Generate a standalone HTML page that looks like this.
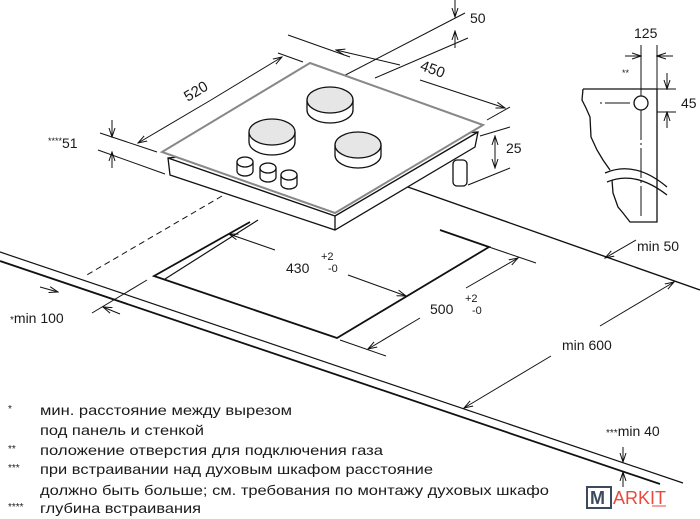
<!DOCTYPE html>
<html><head><meta charset="utf-8"><style>
html,body{margin:0;padding:0;background:#fff}
svg{display:block}
text{font-family:"Liberation Sans",sans-serif;fill:#1a1a1a}
</style></head><body>
<svg width="700" height="519" viewBox="0 0 700 519" xmlns="http://www.w3.org/2000/svg">
<defs>
<marker id="a" markerWidth="10" markerHeight="8" refX="9" refY="4" orient="auto" markerUnits="userSpaceOnUse">
<path d="M0,1 L9,4 L0,7" fill="none" stroke="#111" stroke-width="1"/>
</marker>
</defs>
<g stroke="#111" fill="none" stroke-width="1">
<line x1="0" y1="252" x2="683" y2="483" stroke-width="1.2"/>
<line x1="0" y1="261" x2="660" y2="484" stroke-width="1.8"/>
<line x1="405" y1="186" x2="700" y2="290" stroke-width="1.4"/>
<path d="M250,222 L154,276 L337,338 L489,247 L440,230" stroke-width="1.8"/>
<path d="M258,220 L165,279" stroke-width="1.2"/>
<line x1="275" y1="250" x2="229" y2="234" marker-end="url(#a)"/>
<line x1="348" y1="275" x2="406" y2="296" marker-end="url(#a)"/>
<line x1="489" y1="247" x2="536" y2="263"/>
<line x1="340" y1="340" x2="386" y2="356"/>
<line x1="466" y1="288" x2="518" y2="258" marker-end="url(#a)"/>
<line x1="420" y1="318" x2="368" y2="349" marker-end="url(#a)"/>
<line x1="600" y1="326" x2="674" y2="282" marker-end="url(#a)"/>
<line x1="551" y1="356" x2="464" y2="408" marker-end="url(#a)"/>
<line x1="636" y1="240" x2="605" y2="258" marker-end="url(#a)"/>
<path d="M222,196 L85,276" stroke-dasharray="6,4"/>
<line x1="147" y1="280" x2="92" y2="313"/>
<line x1="40" y1="287" x2="58" y2="292" marker-end="url(#a)"/>
<line x1="120" y1="314" x2="103" y2="307" marker-end="url(#a)"/>
<line x1="623" y1="447" x2="623" y2="462" marker-end="url(#a)"/>
<line x1="623" y1="487" x2="623" y2="472" marker-end="url(#a)"/>
<line x1="100" y1="133" x2="157" y2="152"/>
<line x1="98" y1="150" x2="165" y2="174"/>
<line x1="112" y1="120" x2="112" y2="137" marker-end="url(#a)"/>
<line x1="112" y1="168" x2="112" y2="152" marker-end="url(#a)"/>
<line x1="278" y1="53" x2="303" y2="62"/>
<line x1="211" y1="100" x2="138" y2="143" marker-end="url(#a)"/>
<line x1="211" y1="100" x2="282" y2="57" marker-end="url(#a)"/>
<line x1="288" y1="35" x2="350" y2="57"/>
<line x1="487" y1="120" x2="510" y2="107"/>
<line x1="400" y1="65" x2="336" y2="50" marker-end="url(#a)"/>
<line x1="420" y1="80" x2="505" y2="108" marker-end="url(#a)"/>
<line x1="330" y1="83" x2="465" y2="13"/>
<line x1="375" y1="78" x2="468" y2="38"/>
<line x1="455" y1="0" x2="455" y2="17" marker-end="url(#a)"/>
<line x1="455" y1="48" x2="455" y2="31" marker-end="url(#a)"/>
<line x1="480" y1="136" x2="510" y2="127"/>
<line x1="468" y1="185" x2="510" y2="168"/>
<line x1="495" y1="152" x2="495" y2="136" marker-end="url(#a)"/>
<line x1="495" y1="152" x2="495" y2="168" marker-end="url(#a)"/>
</g>
<g stroke="#111" stroke-width="1.3">
<path d="M168,158 L170,175 L335,230 L475,147 L478,132 Z" fill="#fff"/>
<line x1="335" y1="216" x2="335" y2="230"/>
<rect x="453" y="160" width="14" height="26" rx="4" fill="#fff"/>
<path d="M162,152 L310,63 L483,125 L335,213 Z" fill="#fff" stroke="#888" stroke-width="2"/>
<path d="M168,158 L335,216 L478,132" fill="none" stroke-width="1.4"/>
</g>
<g stroke="#111" stroke-width="1.3">
<g transform="translate(330,100)"><path d="M-23,0 V10 A23,13 0 0 0 23,10 V0" fill="#fff"/><ellipse rx="23" ry="13" fill="#e6e6e6"/></g>
<g transform="translate(272,132)"><path d="M-23,0 V10 A23,13 0 0 0 23,10 V0" fill="#fff"/><ellipse rx="23" ry="13" fill="#e6e6e6"/></g>
<g transform="translate(358,145)"><path d="M-23,0 V10 A23,13 0 0 0 23,10 V0" fill="#fff"/><ellipse rx="23" ry="13" fill="#e6e6e6"/></g>
<g transform="translate(245,162)"><path d="M-8,0 V9 A8,5 0 0 0 8,9 V0" fill="#fff"/><ellipse rx="8" ry="5" fill="#fff"/></g>
<g transform="translate(268,168)"><path d="M-8,0 V9 A8,5 0 0 0 8,9 V0" fill="#fff"/><ellipse rx="8" ry="5" fill="#fff"/></g>
<g transform="translate(289,175)"><path d="M-8,0 V9 A8,5 0 0 0 8,9 V0" fill="#fff"/><ellipse rx="8" ry="5" fill="#fff"/></g>
</g>
<g stroke="#111" fill="none" stroke-width="1.3">
<path d="M583,89 L657,89 L657,222 L630,222 L623,213 L618,207 L613,193 L612,180"/>
<path d="M610,170 L603,160 L597,150 L591,137 L590,117 L586,108 L582,100 L583,89"/>
<path d="M605,173 Q635,160 667,187"/>
<path d="M607,182 Q635,170 667,195"/>
<circle cx="641" cy="103" r="7"/>
<line x1="641" y1="45" x2="641" y2="96" stroke-width="1"/>
<line x1="641" y1="110" x2="641" y2="218" stroke-width="1" stroke-dasharray="30,3,2,3"/>
<line x1="600" y1="103" x2="633" y2="103" stroke-width="1" stroke-dasharray="2,3,25,3"/>
<line x1="657" y1="45" x2="657" y2="89" stroke-width="1"/>
<line x1="657" y1="89" x2="676" y2="89" stroke-width="1"/>
<line x1="657" y1="112" x2="676" y2="112" stroke-width="1"/>
<line x1="625" y1="56" x2="641" y2="56" stroke-width="1" marker-end="url(#a)"/>
<line x1="673" y1="56" x2="657" y2="56" stroke-width="1" marker-end="url(#a)"/>
<line x1="667" y1="73" x2="667" y2="89" stroke-width="1" marker-end="url(#a)"/>
<line x1="667" y1="128" x2="667" y2="112" stroke-width="1" marker-end="url(#a)"/>
</g>
<g font-size="14">
<text x="470" y="23">50</text>
<text x="634" y="38">125</text>
<text x="622" y="76" font-size="9">**</text>
<text x="681" y="108">45</text>
<text x="506" y="153">25</text>
<text x="183" y="95" transform="rotate(-31 198 90)" font-size="15">520</text>
<text x="420" y="75" transform="rotate(20 435 70)" font-size="15">450</text>
<text x="48" y="148"><tspan font-size="9" dy="-4">****</tspan><tspan dy="4">51</tspan></text>
<text x="286" y="273">430</text>
<text x="321" y="260" font-size="11">+2</text>
<text x="328" y="272" font-size="11">-0</text>
<text x="430" y="314">500</text>
<text x="465" y="302" font-size="11">+2</text>
<text x="472" y="314" font-size="11">-0</text>
<text x="637" y="251">min 50</text>
<text x="562" y="350">min 600</text>
<text x="10" y="323"><tspan font-size="10">*</tspan>min 100</text>
<text x="606" y="436"><tspan font-size="10">***</tspan>min 40</text>
</g>
<g font-size="14">
<text x="8" y="412" font-size="10">*</text>
<text x="40" y="415" textLength="252" lengthAdjust="spacingAndGlyphs">мин. расстояние между вырезом</text>
<text x="40" y="435" textLength="164" lengthAdjust="spacingAndGlyphs">под панель и стенкой</text>
<text x="8" y="452" font-size="10">**</text>
<text x="40" y="455" textLength="343" lengthAdjust="spacingAndGlyphs">положение отверстия для подключения газа</text>
<text x="8" y="471" font-size="10">***</text>
<text x="40" y="474" textLength="393" lengthAdjust="spacingAndGlyphs">при встраивании над духовым шкафом расстояние</text>
<text x="40" y="495" textLength="509" lengthAdjust="spacingAndGlyphs">должно быть больше; см. требования по монтажу духовых шкафо</text>
<text x="8" y="510" font-size="10">****</text>
<text x="40" y="513" textLength="161" lengthAdjust="spacingAndGlyphs">глубина встраивания</text>
</g>
<rect x="587" y="487" width="24" height="21" fill="#fff" stroke="#3d4a5c" stroke-width="2"/>
<text x="590" y="504" font-size="18" style="fill:#3d4a5c" font-weight="bold">M</text>
<text x="613" y="504" font-size="18" style="fill:#e84a3c">ARKIT</text>
<line x1="652" y1="506" x2="666" y2="506" stroke="#e84a3c" stroke-width="1"/>
</svg>
</body></html>
